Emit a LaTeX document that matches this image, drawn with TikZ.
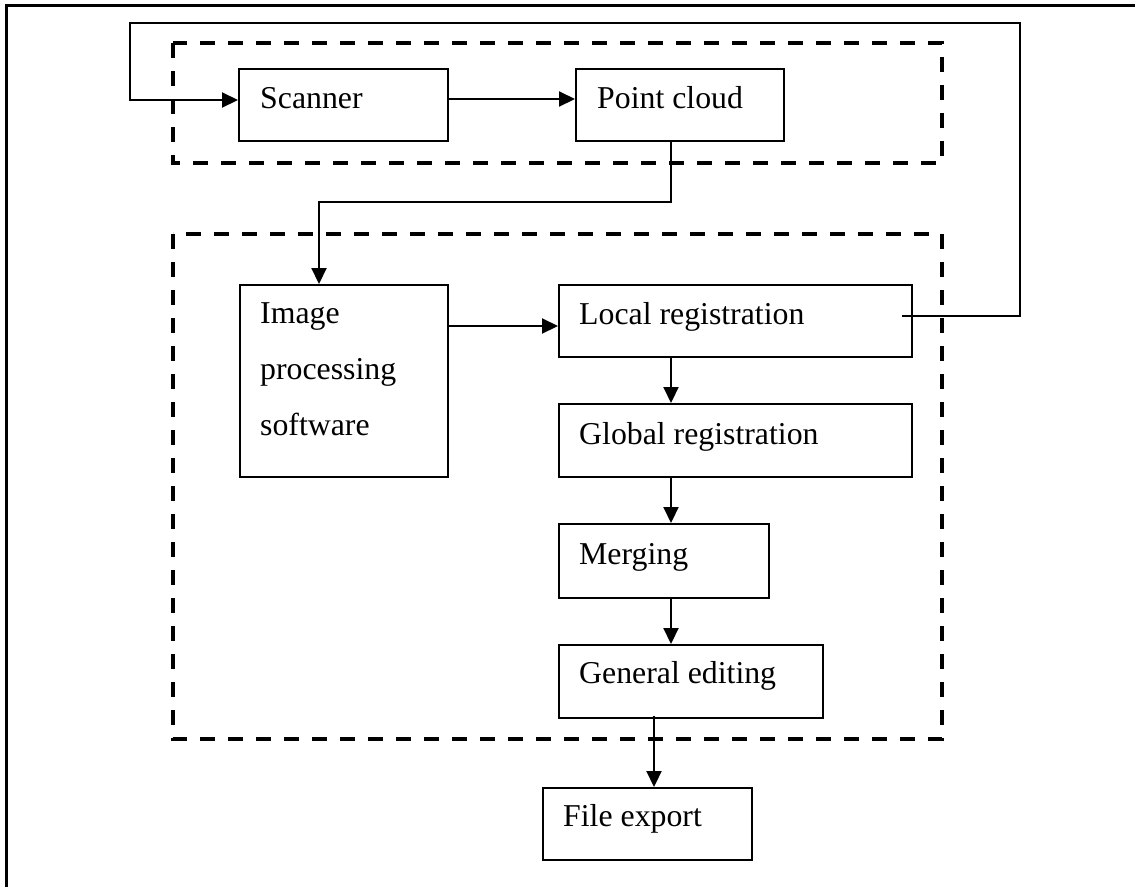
\documentclass[tikz,border=0pt]{standalone}
\usepackage{fontspec}
\setmainfont{Liberation Serif}
\usetikzlibrary{arrows.meta,calc}
\begin{document}
\begin{tikzpicture}[x=1pt,y=-1pt,
  stepbox/.style={draw, line width=2.1pt, inner sep=0pt, anchor=north west},
  txt/.style={anchor=base west, inner sep=0pt, font=\fontsize{31.8}{56}\selectfont},
  grp/.style={draw, line width=4.2pt, dash pattern=on 15pt off 13pt},
  link/.style={line width=2.1pt},
  arr/.style={link, -{Triangle[length=16pt,width=15pt]}}]
\useasboundingbox (0,0) rectangle (1135,887);

% page frame (top and left edges)
\draw[line width=2.6pt] (6.5,887) -- (6.5,5.5) -- (1135,5.5);

% grouping frames
\draw[grp] (173,43) rectangle (942,163);
\draw[grp] (173,234) rectangle (942,739);

% process boxes
\node[stepbox, minimum width=209pt, minimum height=72pt] (scan) at (238,68) {};
\node[stepbox, minimum width=208pt, minimum height=72pt] (pc) at (575,68) {};
\node[stepbox, minimum width=208pt, minimum height=192pt] (img) at (239,284) {};
\node[stepbox, minimum width=353pt, minimum height=72pt] (loc) at (558,284) {};
\node[stepbox, minimum width=353pt, minimum height=73pt] (glob) at (558,403) {};
\node[stepbox, minimum width=210pt, minimum height=74pt] (merge) at (558,523) {};
\node[stepbox, minimum width=264pt, minimum height=73pt] (gen) at (558,644) {};
\node[stepbox, minimum width=209pt, minimum height=72pt] (file) at (542,787) {};

% box labels
\node[txt] (tscan) at ($(scan.north west)+(22,40)$) {Scanner};
\node[txt] (tpc) at ($(pc.north west)+(22,40)$) {Point cloud};
\node[txt] (timg) at ($(img.north west)+(21,39)$) {\parbox[t]{190pt}{Image\\processing\\software}};
\node[txt] (tloc) at ($(loc.north west)+(21,40)$) {Local registration};
\node[txt] (tglob) at ($(glob.north west)+(21,41)$) {Global registration};
\node[txt] (tmerge) at ($(merge.north west)+(21,41)$) {Merging};
\node[txt] (tgen) at ($(gen.north west)+(21,39)$) {General editing};
\node[txt] (tfile) at ($(file.north west)+(21,39)$) {File export};

% connectors
\coordinate (fb) at ($(loc.north east)+(-11,32)$);
\draw[arr] (fb) -| (1020,23) -- (130,23) |- ($(scan.north west)+(0,32)$);
\draw[arr] ($(scan.north east)+(0,31)$) -- ($(pc.north west)+(0,31)$);
\draw[arr] ($(pc.south west)+(96,0)$) -- ++(0,60) -| ($(img.north west)+(80,0)$);
\draw[arr] ($(img.north east)+(0,42)$) -- ($(loc.north west)+(0,42)$);
\draw[arr] ($(loc.south west)+(113,0)$) -- ($(glob.north west)+(113,0)$);
\draw[arr] ($(glob.south west)+(113,0)$) -- ($(merge.north west)+(113,0)$);
\draw[arr] ($(merge.south west)+(113,0)$) -- ($(gen.north west)+(113,0)$);
\draw[arr] ($(gen.south west)+(96,-3)$) -- ($(file.north west)+(112,0)$);
\end{tikzpicture}
\end{document}
